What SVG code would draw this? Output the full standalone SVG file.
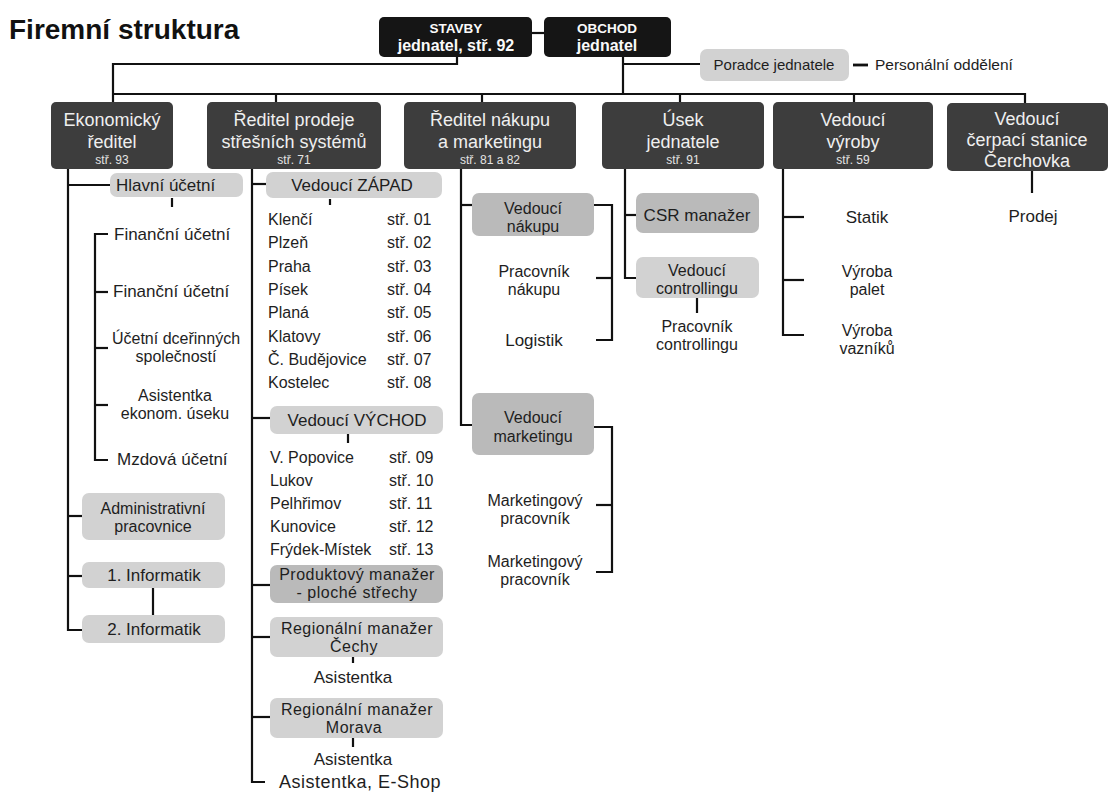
<svg xmlns="http://www.w3.org/2000/svg" width="1112" height="807" viewBox="0 0 1112 807">
<style>
  text { font-family: "Liberation Sans", Arial, sans-serif; fill: #1e1e1e; }
  .title { font-weight: bold; font-size: 28px; fill: #111; }
  .b0 { fill: #151515; }
  .b1 { fill: #3d3d3d; }
  .lb { fill: #d2d2d2; }
  .mb { fill: #bababa; }
  .w0 { fill: #fafafa; font-weight: bold; text-anchor: middle; }
  .w1 { fill: #efefef; font-size: 18px; text-anchor: middle; }
  .sm { font-size: 12px; fill: #e4e4e4; }
  .s { font-size: 17px; }
  .s2 { font-size: 16px; text-anchor: middle; }
  .m { text-anchor: middle; }
  .li { font-size: 16px; }
  .con path { fill: none; stroke: #111; stroke-width: 2.2; }
</style>

<text class="title" x="9" y="39">Firemní struktura</text>

<g class="con" id="connectors">
  <path d="M532,33 H544"/>
  <path d="M457,57 V64 H113 V102"/>
  <path d="M113,94 H1025 V103"/>
  <path d="M276,94 V102"/>
  <path d="M482,94 V102"/>
  <path d="M680,94 V102"/>
  <path d="M854,94 V102"/>
  <path d="M623,57 V94"/>
  <path d="M623,64 H700"/>
  <path d="M853,65 H868" style="stroke-width:2.8"/>
  <path d="M68,169 V630 H82"/>
  <path d="M68,185 H110"/>
  <path d="M68,516 H82"/>
  <path d="M68,576 H82"/>
  <path d="M172,198 V207"/>
  <path d="M108,234 H95 V460 H108"/>
  <path d="M95,292 H108"/>
  <path d="M95,348 H108"/>
  <path d="M95,405 H108"/>
  <path d="M153,588 V615"/>
  <path d="M252,169 V782 H265"/>
  <path d="M252,184 H266"/>
  <path d="M252,418 H270"/>
  <path d="M252,585 H270"/>
  <path d="M252,637 H270"/>
  <path d="M252,717 H270"/>
  <path d="M330,199 V205"/>
  <path d="M348,434 V443"/>
  <path d="M353,657 V663"/>
  <path d="M353,738 V747"/>
  <path d="M461,169 V425 H472"/>
  <path d="M461,205 H472"/>
  <path d="M594,205 H612 V340 H596"/>
  <path d="M596,278 H612"/>
  <path d="M594,427 H612 V572 H596"/>
  <path d="M596,505 H612"/>
  <path d="M625,169 V278 H636"/>
  <path d="M625,215 H636"/>
  <path d="M697,298 V313"/>
  <path d="M783,169 V335 H804"/>
  <path d="M783,217 H804"/>
  <path d="M783,280 H804"/>
  <path d="M1032,171 V193"/>
</g>

<g id="stavby">
  <rect class="b0" x="379" y="17" width="153" height="40" rx="5"/>
  <text class="w0" x="456" y="33" font-size="13.5">STAVBY<tspan x="456" dy="17.5" font-size="16">jednatel, stř. 92</tspan></text>
</g>
<g id="obchod">
  <rect class="b0" x="544" y="17" width="127" height="40" rx="5"/>
  <text class="w0" x="607" y="33" font-size="13.5">OBCHOD<tspan x="607" dy="17.5" font-size="16">jednatel</tspan></text>
</g>
<g id="poradce">
  <rect class="lb" x="700" y="49" width="149" height="32" rx="7"/>
  <text class="m" x="774" y="70" font-size="15">Poradce jednatele</text>
</g>
<g id="personalni">
  <text x="875" y="70" font-size="15.5">Personální oddělení</text>
</g>

<g id="ekonomicky">
  <rect class="b1" x="51" y="102" width="122" height="67" rx="5"/>
  <text class="w1" x="112" y="126">Ekonomický<tspan x="112" dy="22">ředitel</tspan><tspan x="112" dy="16" class="sm">stř. 93</tspan></text>
</g>
<g id="reditel-prodeje">
  <rect class="b1" x="207" y="102" width="174" height="67" rx="5"/>
  <text class="w1" x="294" y="126">Ředitel prodeje<tspan x="294" dy="22">střešních systémů</tspan><tspan x="294" dy="16" class="sm">stř. 71</tspan></text>
</g>
<g id="reditel-nakupu">
  <rect class="b1" x="404" y="102" width="172" height="67" rx="5"/>
  <text class="w1" x="490" y="126">Ředitel nákupu<tspan x="490" dy="22">a marketingu</tspan><tspan x="490" dy="16" class="sm">stř. 81 a 82</tspan></text>
</g>
<g id="usek-jednatele">
  <rect class="b1" x="602" y="102" width="162" height="67" rx="5"/>
  <text class="w1" x="683" y="126">Úsek<tspan x="683" dy="22">jednatele</tspan><tspan x="683" dy="16" class="sm">stř. 91</tspan></text>
</g>
<g id="vedouci-vyroby">
  <rect class="b1" x="773" y="102" width="160" height="67" rx="5"/>
  <text class="w1" x="853" y="126">Vedoucí<tspan x="853" dy="22">výroby</tspan><tspan x="853" dy="16" class="sm">stř. 59</tspan></text>
</g>
<g id="cerpaci-stanice">
  <rect class="b1" x="947" y="103" width="161" height="68" rx="5"/>
  <text class="w1" x="1027" y="125">Vedoucí<tspan x="1027" dy="21">čerpací stanice</tspan><tspan x="1027" dy="21">Čerchovka</tspan></text>
</g>

<g id="hlavni-ucetni">
  <rect class="lb" x="110" y="173" width="133" height="24" rx="7"/>
  <text class="s" x="116" y="191">Hlavní účetní</text>
</g>
<g id="financni-1"><text class="s" x="114" y="240">Finanční účetní</text></g>
<g id="financni-2"><text class="s" x="113" y="297">Finanční účetní</text></g>
<g id="ucetni-dcerinnych">
  <text class="s2" x="176" y="344">Účetní dceřinných<tspan x="176" dy="18">společností</tspan></text>
</g>
<g id="asistentka-ekonom">
  <text class="s2" x="175" y="401">Asistentka<tspan x="175" dy="18">ekonom. úseku</tspan></text>
</g>
<g id="mzdova-ucetni"><text class="s" x="117" y="465">Mzdová účetní</text></g>
<g id="administrativni">
  <rect class="lb" x="82" y="493" width="143" height="47" rx="7"/>
  <text class="s2" x="153" y="514">Administrativní<tspan x="153" dy="18">pracovnice</tspan></text>
</g>
<g id="informatik-1">
  <rect class="lb" x="82" y="562" width="143" height="26" rx="7"/>
  <text class="s m" x="154" y="581">1. Informatik</text>
</g>
<g id="informatik-2">
  <rect class="lb" x="82" y="615" width="143" height="28" rx="7"/>
  <text class="s m" x="154" y="635">2. Informatik</text>
</g>

<g id="vedouci-zapad">
  <rect class="lb" x="266" y="172" width="176" height="26" rx="7"/>
  <text class="s m" x="352" y="191">Vedoucí ZÁPAD</text>
</g>
<g id="zapad-list">
  <text class="li" x="268" y="225">Klenčí</text><text class="li" x="387" y="225">stř. 01</text>
  <text class="li" x="268" y="248">Plzeň</text><text class="li" x="387" y="248">stř. 02</text>
  <text class="li" x="268" y="272">Praha</text><text class="li" x="387" y="272">stř. 03</text>
  <text class="li" x="268" y="295">Písek</text><text class="li" x="387" y="295">stř. 04</text>
  <text class="li" x="268" y="318">Planá</text><text class="li" x="387" y="318">stř. 05</text>
  <text class="li" x="268" y="342">Klatovy</text><text class="li" x="387" y="342">stř. 06</text>
  <text class="li" x="268" y="365">Č. Budějovice</text><text class="li" x="387" y="365">stř. 07</text>
  <text class="li" x="268" y="388">Kostelec</text><text class="li" x="387" y="388">stř. 08</text>
</g>
<g id="vedouci-vychod">
  <rect class="lb" x="270" y="406" width="173" height="28" rx="7"/>
  <text class="s m" x="357" y="426">Vedoucí VÝCHOD</text>
</g>
<g id="vychod-list">
  <text class="li" x="270" y="463">V. Popovice</text><text class="li" x="389" y="463">stř. 09</text>
  <text class="li" x="270" y="486">Lukov</text><text class="li" x="389" y="486">stř. 10</text>
  <text class="li" x="270" y="509">Pelhřimov</text><text class="li" x="389" y="509">stř. 11</text>
  <text class="li" x="270" y="532">Kunovice</text><text class="li" x="389" y="532">stř. 12</text>
  <text class="li" x="270" y="555">Frýdek-Místek</text><text class="li" x="389" y="555">stř. 13</text>
</g>
<g id="produktovy">
  <rect class="mb" x="270" y="565" width="173" height="38" rx="7"/>
  <text class="s2" x="357" y="580" letter-spacing="0.5">Produktový manažer<tspan x="357" dy="18">- ploché střechy</tspan></text>
</g>
<g id="regionalni-cechy">
  <rect class="lb" x="270" y="617" width="173" height="40" rx="7"/>
  <text class="s2" x="357" y="634" letter-spacing="0.5">Regionální manažer<tspan x="354" dy="18">Čechy</tspan></text>
</g>
<g id="asistentka-cechy"><text class="s m" x="353" y="683">Asistentka</text></g>
<g id="regionalni-morava">
  <rect class="lb" x="270" y="698" width="173" height="40" rx="7"/>
  <text class="s2" x="357" y="715" letter-spacing="0.5">Regionální manažer<tspan x="354" dy="18">Morava</tspan></text>
</g>
<g id="asistentka-morava"><text class="s m" x="353" y="765">Asistentka</text></g>
<g id="asistentka-eshop"><text class="m" x="360" y="788" font-size="18" letter-spacing="0.5">Asistentka, E-Shop</text></g>

<g id="vedouci-nakupu">
  <rect class="mb" x="472" y="193" width="122" height="43" rx="7"/>
  <text class="s2" x="533" y="214">Vedoucí<tspan x="533" dy="18">nákupu</tspan></text>
</g>
<g id="pracovnik-nakupu">
  <text class="s2" x="534" y="277">Pracovník<tspan x="534" dy="18">nákupu</tspan></text>
</g>
<g id="logistik"><text class="s m" x="534" y="346">Logistik</text></g>
<g id="vedouci-marketingu">
  <rect class="mb" x="472" y="393" width="122" height="62" rx="7"/>
  <text class="s2" x="533" y="423">Vedoucí<tspan x="533" dy="19">marketingu</tspan></text>
</g>
<g id="marketingovy-1">
  <text class="s2" x="535" y="506">Marketingový<tspan x="535" dy="18">pracovník</tspan></text>
</g>
<g id="marketingovy-2">
  <text class="s2" x="535" y="567">Marketingový<tspan x="535" dy="18">pracovník</tspan></text>
</g>

<g id="csr">
  <rect class="mb" x="636" y="193" width="123" height="40" rx="7"/>
  <text class="s m" x="697" y="221">CSR manažer</text>
</g>
<g id="vedouci-controllingu">
  <rect class="lb" x="636" y="257" width="123" height="41" rx="7"/>
  <text class="s2" x="697" y="276">Vedoucí<tspan x="697" dy="18">controllingu</tspan></text>
</g>
<g id="pracovnik-controllingu">
  <text class="s2" x="697" y="332">Pracovník<tspan x="697" dy="18">controllingu</tspan></text>
</g>

<g id="statik"><text class="s m" x="867" y="223">Statik</text></g>
<g id="vyroba-palet">
  <text class="s2" x="867" y="277">Výroba<tspan x="867" dy="18">palet</tspan></text>
</g>
<g id="vyroba-vazniku">
  <text class="s2" x="867" y="336">Výroba<tspan x="867" dy="18">vazníků</tspan></text>
</g>

<g id="prodej"><text class="s m" x="1033" y="222">Prodej</text></g>
</svg>
